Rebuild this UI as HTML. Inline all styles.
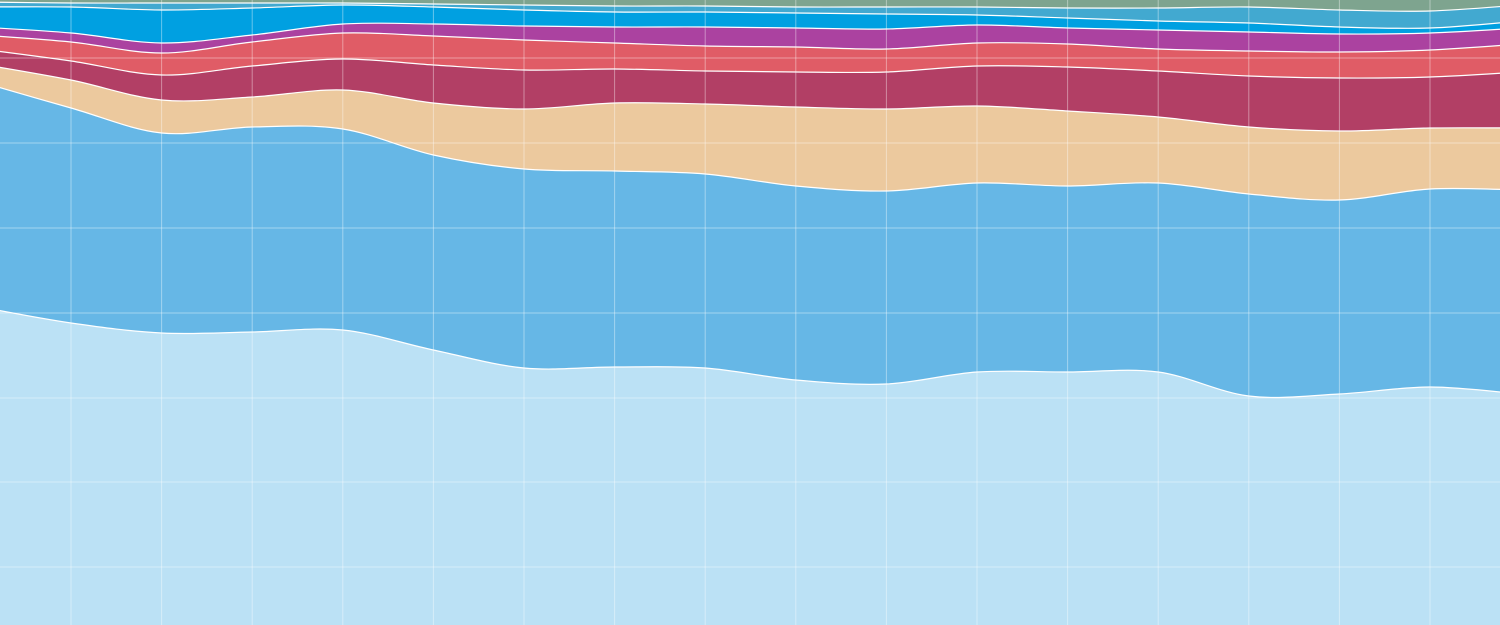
<!DOCTYPE html>
<html><head><meta charset="utf-8"><style>
html,body{margin:0;padding:0;background:#fff;}
svg{display:block;}
</style></head><body>
<svg id="chart" width="1500" height="625" viewBox="0 0 1500 625" xmlns="http://www.w3.org/2000/svg"></svg>
<script>
const categories = ["p0","p1","p2","p3","p4","p5","p6","p7","p8","p9","p10","p11","p12","p13","p14","p15","p16","p17"];
const seriesLightBlue = [318,302,292,293,295,275,257,258,257,245,241,253,253,253,229,231,238,231];
const seriesMidBlue = [225,215,200,205,201,195,199,196,194,194,193,189,186,189,202,194,198,204];
const seriesTan = [18,28,33,30,39,52,60,68,70,79,82,77,75,66,67,69,61,62];
const seriesCrimson = [15,19,25,31,31,38,39,34,33,35,37,40,44,46,51,53,51,56];
const seriesRed = [14,19,22,24,26,29,30,26,25,25,23,23,23,22,25,26,27,28];
const seriesPurple = [8,9,10,7,9,12,14,16,19,19,20,18,16,19,19,18,17,16];
const seriesBlue = [20,26,33,27,19,17,16,15,15,15,15,10,10,9,9,7,5,7];
const seriesSky = [5,4,7,5,2,3,5,6,6,6,7,8,10,13,16,17,17,16];
const seriesGreen = [2,3,3,3,3,4,5,6,6,7,7,7,8,8,7,10,11,5];
const yTicks = [58,143,227,312,397,482,567];

const layers = [
  {name:"light-blue", vals:seriesLightBlue, color:"#bbe1f5"},
  {name:"mid-blue", vals:seriesMidBlue, color:"#66b7e6"},
  {name:"tan", vals:seriesTan, color:"#ecc99e"},
  {name:"crimson", vals:seriesCrimson, color:"#b23f65"},
  {name:"red", vals:seriesRed, color:"#e05c66"},
  {name:"purple", vals:seriesPurple, color:"#ab42a0"},
  {name:"blue", vals:seriesBlue, color:"#00a0e1"},
  {name:"sky", vals:seriesSky, color:"#42a9d0"},
  {name:"green", vals:seriesGreen, color:"#7ea48f"}
];
const svg = document.getElementById('chart');
const NS = "http://www.w3.org/2000/svg";
const W = 1500, H = 625, YMAX = 625;
const xScale = i => -19.6 + 90.6 * i;
const yScale = v => H - v / YMAX * H;

function curve(pts){
  let d = "";
  for(let i=0;i<pts.length-1;i++){
    const p0 = pts[Math.max(0,i-1)], p1 = pts[i], p2 = pts[i+1], p3 = pts[Math.min(pts.length-1,i+2)];
    const c1x = p1[0] + (p2[0]-p0[0])/6, c1y = p1[1] + (p2[1]-p0[1])/6;
    const c2x = p2[0] - (p3[0]-p1[0])/6, c2y = p2[1] - (p3[1]-p1[1])/6;
    d += ` C${c1x},${c1y} ${c2x},${c2y} ${p2[0]},${p2[1]}`;
  }
  return d;
}
const cum = categories.map(()=>0);
const tops = [];
layers.forEach(L=>{
  const lower = cum.slice();
  categories.forEach((c,i)=>{ cum[i] += L.vals[i]; });
  const upper = cum.slice();
  const up = upper.map((v,i)=>[xScale(i), yScale(v)]);
  const lo = lower.map((v,i)=>[xScale(i), yScale(v)]).reverse();
  let d = `M${up[0][0]},${up[0][1]}` + curve(up) + ` L${lo[0][0]},${lo[0][1]}` + curve(lo) + " Z";
  const p = document.createElementNS(NS,"path");
  p.setAttribute("d", d);
  p.setAttribute("fill", L.color);
  
  
  svg.appendChild(p);
  tops.push(`M${up[0][0]},${up[0][1]}` + curve(up));
});
const grid = document.createElementNS(NS,"g");


svg.appendChild(grid);
categories.forEach((c,i)=>{
  const x = xScale(i);
  const l = document.createElementNS(NS,"line");
  l.setAttribute("x1",x); l.setAttribute("x2",x); l.setAttribute("y1",0); l.setAttribute("y2",H);
  l.setAttribute("stroke","rgba(255,255,255,0.4)"); l.setAttribute("stroke-width","1");
  
  
  grid.appendChild(l);
});
yTicks.forEach(t=>{
  const y = yScale(t);
  const l = document.createElementNS(NS,"line");
  l.setAttribute("x1",0); l.setAttribute("x2",W); l.setAttribute("y1",y); l.setAttribute("y2",y);
  l.setAttribute("stroke","rgba(255,255,255,0.4)"); l.setAttribute("stroke-width","1");
  
  
  grid.appendChild(l);
});
tops.slice(0,-1).forEach((d,k)=>{
  const p = document.createElementNS(NS,"path");
  p.setAttribute("d", d);
  p.setAttribute("fill","none");
  p.setAttribute("stroke","#fff");
  p.setAttribute("stroke-width","1.2");
  
  
  svg.appendChild(p);
});
</script>
</body></html>
